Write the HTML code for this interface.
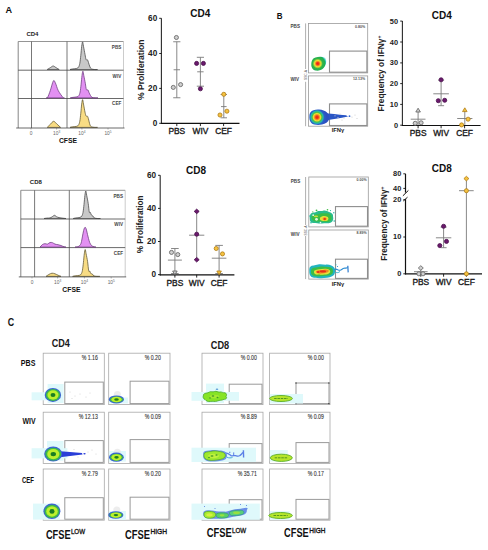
<!DOCTYPE html>
<html><head><meta charset="utf-8"><title>Figure</title>
<style>
html,body{margin:0;padding:0;background:#fff;}
body{width:488px;height:550px;overflow:hidden;}
svg{display:block;font-family:"Liberation Sans", sans-serif;}
</style></head><body>
<svg width="488" height="550" viewBox="0 0 488 550">
<defs>
<radialGradient id="rg1" gradientUnits="userSpaceOnUse" cx="317.7" cy="63.6" r="8.6">
<stop offset="0" stop-color="#ec1e10"/><stop offset="0.14" stop-color="#f0321a"/>
<stop offset="0.26" stop-color="#f39422"/><stop offset="0.37" stop-color="#ece232"/>
<stop offset="0.48" stop-color="#8ccc3c"/><stop offset="0.58" stop-color="#30b44a"/><stop offset="0.84" stop-color="#20b050"/>
<stop offset="0.95" stop-color="#35c4b8"/><stop offset="1" stop-color="#7fdcd6"/>
</radialGradient>
<radialGradient id="rg2" gradientUnits="userSpaceOnUse" cx="317.0" cy="117.2" r="9.6">
<stop offset="0" stop-color="#ec1e10"/><stop offset="0.14" stop-color="#f0381a"/>
<stop offset="0.27" stop-color="#f39a22"/><stop offset="0.38" stop-color="#ede232"/>
<stop offset="0.5" stop-color="#50be46"/><stop offset="0.64" stop-color="#22b8b0"/>
<stop offset="0.76" stop-color="#2a5ec8"/><stop offset="1" stop-color="#2a50c0"/>
</radialGradient>
</defs>
<rect width="488" height="550" fill="#fff"/>
<text x="5.4" y="13.0" font-size="9.4" font-weight="bold" fill="#111" textLength="6.6" lengthAdjust="spacingAndGlyphs">A</text>
<text x="276.8" y="19.0" font-size="9.4" font-weight="bold" fill="#111" textLength="5.8" lengthAdjust="spacingAndGlyphs">B</text>
<text x="7.8" y="325.8" font-size="10.2" font-weight="bold" fill="#111" textLength="6.4" lengthAdjust="spacingAndGlyphs">C</text>
<line x1="18.2" y1="41.5" x2="18.2" y2="128.0" stroke="#666" stroke-width="0.8" />
<line x1="18.2" y1="41.5" x2="123.5" y2="41.5" stroke="#7a7a7a" stroke-width="0.8" />
<line x1="123.5" y1="41.5" x2="123.5" y2="128.0" stroke="#aaaaaa" stroke-width="0.6" />
<line x1="31.5" y1="41.5" x2="31.5" y2="128.0" stroke="#555" stroke-width="0.8" />
<line x1="67.0" y1="41.5" x2="67.0" y2="128.0" stroke="#555" stroke-width="0.8" />
<line x1="18.2" y1="70.2" x2="123.5" y2="70.2" stroke="#444" stroke-width="0.8" />
<line x1="18.2" y1="98.5" x2="123.5" y2="98.5" stroke="#444" stroke-width="0.8" />
<text x="26.4" y="36.2" font-size="6.0" font-weight="bold" text-anchor="start" fill="#222" >CD4</text>
<path d="M47.20,69.50 C47.74,69.18 49.45,68.16 50.45,67.58 C51.45,66.99 52.28,66.00 53.20,66.00 C54.12,66.00 54.95,66.99 55.95,67.58 C56.95,68.16 58.66,69.18 59.20,69.50 Z" fill="#c8c8c8" stroke="#444" stroke-width="0.75" />
<path d="M70.00,69.50 C70.43,69.41 71.47,69.13 72.60,68.95 C73.73,68.76 75.80,68.72 76.80,68.40 C77.80,68.07 78.10,67.84 78.60,67.02 C79.10,66.19 79.43,65.36 79.80,63.43 C80.17,61.50 80.48,58.28 80.80,55.42 C81.12,52.57 81.40,48.57 81.70,46.32 C82.00,44.06 82.30,41.90 82.60,41.90 C82.90,41.90 83.10,44.25 83.50,46.32 C83.90,48.39 84.57,52.11 85.00,54.32 C85.43,56.53 85.68,58.64 86.10,59.56 C86.52,60.48 87.12,59.38 87.50,59.84 C87.88,60.30 87.98,61.13 88.40,62.32 C88.82,63.52 89.48,65.91 90.00,67.02 C90.52,68.12 90.75,68.53 91.50,68.95 C92.25,69.36 93.50,69.41 94.50,69.50 C95.50,69.59 97.00,69.50 97.50,69.50 Z" fill="#c8c8c8" stroke="#444" stroke-width="0.75" />
<text x="121.3" y="48.6" font-size="4.6" font-weight="bold" text-anchor="end" fill="#444" >PBS</text>
<path d="M46.10,97.90 C46.35,97.81 46.90,98.61 47.60,97.39 C48.30,96.17 49.34,93.34 50.30,90.59 C51.26,87.84 52.49,82.15 53.35,80.90 C54.21,79.65 54.64,81.50 55.46,83.11 C56.28,84.73 57.01,88.21 58.25,90.59 C59.49,92.97 61.88,96.17 62.90,97.39 C63.93,98.61 64.15,97.81 64.40,97.90 Z" fill="#e290f2" stroke="#6a3a7c" stroke-width="0.75" />
<path d="M70.30,97.90 C70.73,97.81 71.77,97.54 72.90,97.37 C74.03,97.19 76.10,97.14 77.10,96.83 C78.10,96.52 78.40,96.30 78.90,95.50 C79.40,94.70 79.73,93.90 80.10,92.03 C80.47,90.16 80.78,87.04 81.10,84.28 C81.42,81.52 81.70,77.65 82.00,75.47 C82.30,73.29 82.60,71.20 82.90,71.20 C83.20,71.20 83.40,73.47 83.80,75.47 C84.20,77.47 84.87,80.86 85.30,83.22 C85.73,85.57 85.95,88.51 86.40,89.62 C86.85,90.74 87.58,89.44 88.00,89.89 C88.42,90.34 88.48,91.36 88.90,92.29 C89.32,93.23 89.98,94.65 90.50,95.50 C91.02,96.34 91.25,96.97 92.00,97.37 C92.75,97.77 94.00,97.81 95.00,97.90 C96.00,97.99 97.50,97.90 98.00,97.90 Z" fill="#e290f2" stroke="#6a3a7c" stroke-width="0.75" />
<text x="121.3" y="78.2" font-size="4.6" font-weight="bold" text-anchor="end" fill="#444" >WIV</text>
<path d="M47.20,127.40 C47.77,126.84 49.56,125.06 50.63,124.05 C51.70,123.03 52.55,121.30 53.60,121.30 C54.65,121.30 55.73,123.03 56.90,124.05 C58.07,125.06 59.98,126.84 60.60,127.40 Z" fill="#f8dc84" stroke="#5e5430" stroke-width="0.75" />
<path d="M70.00,127.40 C70.43,127.31 71.47,127.03 72.60,126.84 C73.73,126.66 75.80,126.61 76.80,126.29 C77.80,125.96 78.10,125.73 78.60,124.90 C79.10,124.06 79.43,123.23 79.80,121.28 C80.17,119.34 80.48,116.09 80.80,113.22 C81.12,110.35 81.40,106.32 81.70,104.05 C82.00,101.78 82.30,99.60 82.60,99.60 C82.90,99.60 83.10,101.96 83.50,104.05 C83.90,106.13 84.57,110.12 85.00,112.11 C85.43,114.10 85.68,115.31 86.10,116.00 C86.52,116.70 87.12,115.82 87.50,116.28 C87.88,116.74 87.98,117.35 88.40,118.78 C88.82,120.22 89.48,123.55 90.00,124.90 C90.52,126.24 90.75,126.43 91.50,126.84 C92.25,127.26 93.50,127.31 94.50,127.40 C95.50,127.49 97.00,127.40 97.50,127.40 Z" fill="#f8dc84" stroke="#5e5430" stroke-width="0.75" />
<text x="121.3" y="104.5" font-size="4.6" font-weight="bold" text-anchor="end" fill="#444" >CEF</text>
<line x1="16.2" y1="128.0" x2="124.5" y2="128.0" stroke="#444" stroke-width="0.8" />
<line x1="31.0" y1="128.0" x2="31.0" y2="129.5" stroke="#666" stroke-width="0.5" />
<line x1="56.6" y1="128.0" x2="56.6" y2="129.5" stroke="#666" stroke-width="0.5" />
<line x1="81.9" y1="128.0" x2="81.9" y2="129.5" stroke="#666" stroke-width="0.5" />
<line x1="108.0" y1="128.0" x2="108.0" y2="129.5" stroke="#666" stroke-width="0.5" />
<text x="31.0" y="134.7" font-size="4.8" font-weight="normal" text-anchor="middle" fill="#666" >0</text>
<text x="56.6" y="134.7" font-size="4.8" fill="#666" text-anchor="middle">10<tspan font-size="3.2" dy="-2.0">3</tspan></text>
<text x="81.9" y="134.7" font-size="4.8" fill="#666" text-anchor="middle">10<tspan font-size="3.2" dy="-2.0">4</tspan></text>
<text x="108.0" y="134.7" font-size="4.8" fill="#666" text-anchor="middle">10<tspan font-size="3.2" dy="-2.0">5</tspan></text>
<text x="68.0" y="143.0" font-size="6.8" font-weight="bold" text-anchor="middle" fill="#111" >CFSE</text>
<line x1="20.8" y1="190.3" x2="20.8" y2="276.9" stroke="#666" stroke-width="0.8" />
<line x1="20.8" y1="190.3" x2="125.2" y2="190.3" stroke="#7a7a7a" stroke-width="0.8" />
<line x1="125.2" y1="190.3" x2="125.2" y2="276.9" stroke="#aaaaaa" stroke-width="0.6" />
<line x1="34.6" y1="190.3" x2="34.6" y2="276.9" stroke="#555" stroke-width="0.8" />
<line x1="69.3" y1="190.3" x2="69.3" y2="276.9" stroke="#555" stroke-width="0.8" />
<line x1="20.8" y1="219.0" x2="125.2" y2="219.0" stroke="#444" stroke-width="0.8" />
<line x1="20.8" y1="247.6" x2="125.2" y2="247.6" stroke="#444" stroke-width="0.8" />
<text x="29.8" y="184.4" font-size="6.0" font-weight="bold" text-anchor="start" fill="#222" >CD8</text>
<path d="M44.00,218.50 C44.50,218.43 46.00,218.20 47.00,218.10 C48.00,218.00 49.17,218.10 50.00,217.90 C50.83,217.70 51.25,217.33 52.00,216.90 C52.75,216.47 53.75,215.33 54.50,215.30 C55.25,215.27 55.75,216.32 56.50,216.70 C57.25,217.08 57.92,217.35 59.00,217.60 C60.08,217.85 61.83,218.05 63.00,218.20 C64.17,218.35 65.50,218.45 66.00,218.50 Z" fill="#c8c8c8" stroke="#444" stroke-width="0.75" />
<path d="M73.20,218.50 C73.63,218.41 74.67,218.13 75.80,217.95 C76.93,217.77 79.00,217.72 80.00,217.40 C81.00,217.08 81.30,216.85 81.80,216.03 C82.30,215.20 82.63,214.38 83.00,212.45 C83.37,210.52 83.68,207.32 84.00,204.47 C84.32,201.63 84.60,197.65 84.90,195.40 C85.20,193.15 85.50,191.00 85.80,191.00 C86.10,191.00 86.30,193.34 86.70,195.40 C87.10,197.46 87.77,200.58 88.20,203.38 C88.63,206.17 88.93,210.66 89.30,212.18 C89.67,213.69 90.07,211.99 90.40,212.45 C90.73,212.91 90.88,214.33 91.30,214.93 C91.72,215.52 92.38,215.52 92.90,216.03 C93.42,216.53 93.65,217.54 94.40,217.95 C95.15,218.36 96.40,218.41 97.40,218.50 C98.40,218.59 99.90,218.50 100.40,218.50 Z" fill="#c8c8c8" stroke="#444" stroke-width="0.75" />
<text x="123.0" y="197.5" font-size="4.6" font-weight="bold" text-anchor="end" fill="#444" >PBS</text>
<path d="M40.00,247.10 C40.42,246.67 41.67,245.07 42.50,244.50 C43.33,243.93 44.17,243.77 45.00,243.70 C45.83,243.63 46.67,244.30 47.50,244.10 C48.33,243.90 49.17,242.73 50.00,242.50 C50.83,242.27 51.67,242.43 52.50,242.70 C53.33,242.97 54.08,243.77 55.00,244.10 C55.92,244.43 57.00,244.47 58.00,244.70 C59.00,244.93 60.00,245.15 61.00,245.50 C62.00,245.85 63.17,246.53 64.00,246.80 C64.83,247.07 65.67,247.05 66.00,247.10 Z" fill="#e290f2" stroke="#6a3a7c" stroke-width="0.75" />
<path d="M75.00,247.10 C75.53,247.02 77.28,247.03 78.20,246.60 C79.12,246.17 79.95,245.35 80.50,244.50 C81.05,243.65 81.17,242.90 81.50,241.50 C81.83,240.10 82.15,237.92 82.50,236.10 C82.85,234.28 83.25,232.00 83.60,230.60 C83.95,229.20 84.28,228.22 84.60,227.70 C84.92,227.18 85.18,227.10 85.50,227.50 C85.82,227.90 86.17,228.93 86.50,230.10 C86.83,231.27 87.17,233.10 87.50,234.50 C87.83,235.90 88.13,237.17 88.50,238.50 C88.87,239.83 89.20,241.33 89.70,242.50 C90.20,243.67 90.78,244.78 91.50,245.50 C92.22,246.22 93.25,246.53 94.00,246.80 C94.75,247.07 95.67,247.05 96.00,247.10 Z" fill="#e290f2" stroke="#6a3a7c" stroke-width="0.75" />
<text x="123.0" y="226.2" font-size="4.6" font-weight="bold" text-anchor="end" fill="#444" >WIV</text>
<path d="M46.00,276.40 C46.50,276.07 48.00,274.93 49.00,274.40 C50.00,273.87 51.00,273.30 52.00,273.20 C53.00,273.10 54.00,273.47 55.00,273.80 C56.00,274.13 57.00,274.77 58.00,275.20 C59.00,275.63 60.50,276.20 61.00,276.40 Z" fill="#f8dc84" stroke="#5e5430" stroke-width="0.75" />
<path d="M72.60,276.40 C73.03,276.31 74.07,276.04 75.20,275.86 C76.33,275.68 78.40,275.64 79.40,275.32 C80.40,275.01 80.70,274.79 81.20,273.98 C81.70,273.17 82.03,272.36 82.40,270.48 C82.77,268.60 83.08,265.46 83.40,262.68 C83.72,259.90 84.00,256.00 84.30,253.80 C84.60,251.61 84.90,249.50 85.20,249.50 C85.50,249.50 85.70,251.79 86.10,253.80 C86.50,255.82 87.17,258.78 87.60,261.60 C88.03,264.43 88.33,269.18 88.70,270.75 C89.07,272.32 89.47,270.57 89.80,271.02 C90.13,271.47 90.28,272.95 90.70,273.44 C91.12,273.93 91.78,273.58 92.30,273.98 C92.82,274.38 93.05,275.46 93.80,275.86 C94.55,276.27 95.80,276.31 96.80,276.40 C97.80,276.49 99.30,276.40 99.80,276.40 Z" fill="#f8dc84" stroke="#5e5430" stroke-width="0.75" />
<text x="123.0" y="255.4" font-size="4.6" font-weight="bold" text-anchor="end" fill="#444" >CEF</text>
<line x1="18.8" y1="276.9" x2="126.2" y2="276.9" stroke="#444" stroke-width="0.8" />
<line x1="32.0" y1="276.9" x2="32.0" y2="278.4" stroke="#666" stroke-width="0.5" />
<line x1="57.6" y1="276.9" x2="57.6" y2="278.4" stroke="#666" stroke-width="0.5" />
<line x1="84.4" y1="276.9" x2="84.4" y2="278.4" stroke="#666" stroke-width="0.5" />
<line x1="111.2" y1="276.9" x2="111.2" y2="278.4" stroke="#666" stroke-width="0.5" />
<text x="32.0" y="283.8" font-size="4.8" font-weight="normal" text-anchor="middle" fill="#666" >0</text>
<text x="57.6" y="283.8" font-size="4.8" fill="#666" text-anchor="middle">10<tspan font-size="3.2" dy="-2.0">3</tspan></text>
<text x="84.4" y="283.8" font-size="4.8" fill="#666" text-anchor="middle">10<tspan font-size="3.2" dy="-2.0">4</tspan></text>
<text x="111.2" y="283.8" font-size="4.8" fill="#666" text-anchor="middle">10<tspan font-size="3.2" dy="-2.0">5</tspan></text>
<text x="71.4" y="292.2" font-size="6.8" font-weight="bold" text-anchor="middle" fill="#111" >CFSE</text>
<line x1="161.4" y1="18.3" x2="161.4" y2="123.89999999999999" stroke="#2a2a2a" stroke-width="1.1" />
<line x1="160.9" y1="123.3" x2="239.5" y2="123.3" stroke="#111" stroke-width="1.2" />
<line x1="159.20000000000002" y1="18.3" x2="161.4" y2="18.3" stroke="#111" stroke-width="0.9" />
<text x="157.20000000000002" y="20.8" font-size="8.2" font-weight="bold" text-anchor="end" fill="#222" >60</text>
<line x1="159.20000000000002" y1="53.5" x2="161.4" y2="53.5" stroke="#111" stroke-width="0.9" />
<text x="157.20000000000002" y="56.0" font-size="8.2" font-weight="bold" text-anchor="end" fill="#222" >40</text>
<line x1="159.20000000000002" y1="88.4" x2="161.4" y2="88.4" stroke="#111" stroke-width="0.9" />
<text x="157.20000000000002" y="90.9" font-size="8.2" font-weight="bold" text-anchor="end" fill="#222" >20</text>
<line x1="159.20000000000002" y1="123.3" x2="161.4" y2="123.3" stroke="#111" stroke-width="0.9" />
<text x="157.20000000000002" y="125.8" font-size="8.2" font-weight="bold" text-anchor="end" fill="#222" >0</text>
<line x1="176.8" y1="123.3" x2="176.8" y2="126.1" stroke="#111" stroke-width="0.9" />
<text x="176.8" y="133.89999999999998" font-size="8.4" font-weight="normal" text-anchor="middle" fill="#1a1a1a" stroke="#1a1a1a" stroke-width="0.35">PBS</text>
<line x1="200.4" y1="123.3" x2="200.4" y2="126.1" stroke="#111" stroke-width="0.9" />
<text x="200.4" y="133.89999999999998" font-size="8.4" font-weight="normal" text-anchor="middle" fill="#1a1a1a" stroke="#1a1a1a" stroke-width="0.35">WIV</text>
<line x1="223.6" y1="123.3" x2="223.6" y2="126.1" stroke="#111" stroke-width="0.9" />
<text x="223.6" y="133.89999999999998" font-size="8.4" font-weight="normal" text-anchor="middle" fill="#1a1a1a" stroke="#1a1a1a" stroke-width="0.35">CEF</text>
<text x="200.2" y="16.6" font-size="10.0" font-weight="bold" text-anchor="middle" fill="#111" >CD4</text>
<text transform="translate(143.9,69.7) rotate(-90)" font-size="8.6" font-weight="bold" text-anchor="middle" fill="#222">% Proliferation</text>
<line x1="176.8" y1="41.75" x2="176.8" y2="97.75" stroke="#7a7a7a" stroke-width="0.9" />
<line x1="173.20000000000002" y1="41.75" x2="180.4" y2="41.75" stroke="#7a7a7a" stroke-width="0.9" />
<line x1="173.20000000000002" y1="97.75" x2="180.4" y2="97.75" stroke="#7a7a7a" stroke-width="0.9" />
<line x1="173.60000000000002" y1="69.75" x2="180.0" y2="69.75" stroke="#7a7a7a" stroke-width="0.9" />
<line x1="200.4" y1="57.3" x2="200.4" y2="86.2" stroke="#7a7a7a" stroke-width="0.9" />
<line x1="196.8" y1="57.3" x2="204.0" y2="57.3" stroke="#7a7a7a" stroke-width="0.9" />
<line x1="196.8" y1="86.2" x2="204.0" y2="86.2" stroke="#7a7a7a" stroke-width="0.9" />
<line x1="197.20000000000002" y1="71.8" x2="203.6" y2="71.8" stroke="#7a7a7a" stroke-width="0.9" />
<line x1="223.8" y1="94.5" x2="223.8" y2="117.8" stroke="#7a7a7a" stroke-width="0.9" />
<line x1="220.60000000000002" y1="94.5" x2="227.0" y2="94.5" stroke="#7a7a7a" stroke-width="0.9" />
<line x1="220.60000000000002" y1="117.8" x2="227.0" y2="117.8" stroke="#7a7a7a" stroke-width="0.9" />
<line x1="221.0" y1="106.6" x2="226.60000000000002" y2="106.6" stroke="#7a7a7a" stroke-width="0.9" />
<circle cx="176.4" cy="37.5" r="2.05" fill="#cfcfcf" stroke="#5e5e5e" stroke-width="0.8"/>
<circle cx="173.3" cy="87.4" r="2.05" fill="#cfcfcf" stroke="#5e5e5e" stroke-width="0.8"/>
<circle cx="180.6" cy="84.6" r="2.05" fill="#cfcfcf" stroke="#5e5e5e" stroke-width="0.8"/>
<circle cx="196.6" cy="63.4" r="2.05" fill="#6a1a6c" stroke="#4a0f4c" stroke-width="0.8"/>
<circle cx="203.4" cy="63.4" r="2.05" fill="#6a1a6c" stroke="#4a0f4c" stroke-width="0.8"/>
<circle cx="200.4" cy="88.8" r="2.05" fill="#6a1a6c" stroke="#4a0f4c" stroke-width="0.8"/>
<circle cx="223.8" cy="94.3" r="2.05" fill="#f5c240" stroke="#b07c14" stroke-width="0.8"/>
<circle cx="226.9" cy="111.2" r="2.05" fill="#f5c240" stroke="#b07c14" stroke-width="0.8"/>
<circle cx="220.0" cy="115.0" r="2.05" fill="#f5c240" stroke="#b07c14" stroke-width="0.8"/>
<line x1="160.2" y1="175.3" x2="160.2" y2="275.40000000000003" stroke="#2a2a2a" stroke-width="1.1" />
<line x1="159.7" y1="274.8" x2="234.4" y2="274.8" stroke="#111" stroke-width="1.2" />
<line x1="158.0" y1="175.3" x2="160.2" y2="175.3" stroke="#111" stroke-width="0.9" />
<text x="156.0" y="177.8" font-size="8.2" font-weight="bold" text-anchor="end" fill="#222" >60</text>
<line x1="158.0" y1="208.4" x2="160.2" y2="208.4" stroke="#111" stroke-width="0.9" />
<text x="156.0" y="210.9" font-size="8.2" font-weight="bold" text-anchor="end" fill="#222" >40</text>
<line x1="158.0" y1="241.5" x2="160.2" y2="241.5" stroke="#111" stroke-width="0.9" />
<text x="156.0" y="244.0" font-size="8.2" font-weight="bold" text-anchor="end" fill="#222" >20</text>
<line x1="158.0" y1="274.6" x2="160.2" y2="274.6" stroke="#111" stroke-width="0.9" />
<text x="156.0" y="277.1" font-size="8.2" font-weight="bold" text-anchor="end" fill="#222" >0</text>
<line x1="174.9" y1="274.8" x2="174.9" y2="277.6" stroke="#111" stroke-width="0.9" />
<text x="174.9" y="285.9" font-size="8.4" font-weight="normal" text-anchor="middle" fill="#1a1a1a" stroke="#1a1a1a" stroke-width="0.35">PBS</text>
<line x1="196.7" y1="274.8" x2="196.7" y2="277.6" stroke="#111" stroke-width="0.9" />
<text x="196.7" y="285.9" font-size="8.4" font-weight="normal" text-anchor="middle" fill="#1a1a1a" stroke="#1a1a1a" stroke-width="0.35">WIV</text>
<line x1="219.1" y1="274.8" x2="219.1" y2="277.6" stroke="#111" stroke-width="0.9" />
<text x="219.1" y="285.9" font-size="8.4" font-weight="normal" text-anchor="middle" fill="#1a1a1a" stroke="#1a1a1a" stroke-width="0.35">CEF</text>
<text x="196.1" y="174.0" font-size="10.0" font-weight="bold" text-anchor="middle" fill="#111" >CD8</text>
<text transform="translate(143.2,224.4) rotate(-90)" font-size="8.2" font-weight="bold" text-anchor="middle" fill="#222">% Proliferation</text>
<line x1="174.9" y1="248.5" x2="174.9" y2="273.5" stroke="#7a7a7a" stroke-width="0.9" />
<line x1="171.1" y1="248.5" x2="178.70000000000002" y2="248.5" stroke="#7a7a7a" stroke-width="0.9" />
<line x1="171.1" y1="273.5" x2="178.70000000000002" y2="273.5" stroke="#7a7a7a" stroke-width="0.9" />
<line x1="167.9" y1="260.1" x2="181.9" y2="260.1" stroke="#7a7a7a" stroke-width="0.9" />
<line x1="196.7" y1="211.4" x2="196.7" y2="259.7" stroke="#7a7a7a" stroke-width="0.9" />
<line x1="196.7" y1="211.4" x2="196.7" y2="211.4" stroke="#7a7a7a" stroke-width="0.9" />
<line x1="196.7" y1="259.7" x2="196.7" y2="259.7" stroke="#7a7a7a" stroke-width="0.9" />
<line x1="189.1" y1="235.2" x2="204.29999999999998" y2="235.2" stroke="#7a7a7a" stroke-width="0.9" />
<line x1="219.1" y1="245.4" x2="219.1" y2="273.5" stroke="#7a7a7a" stroke-width="0.9" />
<line x1="215.29999999999998" y1="245.4" x2="222.9" y2="245.4" stroke="#7a7a7a" stroke-width="0.9" />
<line x1="215.29999999999998" y1="273.5" x2="222.9" y2="273.5" stroke="#7a7a7a" stroke-width="0.9" />
<line x1="211.79999999999998" y1="258.2" x2="226.4" y2="258.2" stroke="#7a7a7a" stroke-width="0.9" />
<circle cx="171.5" cy="252.4" r="2.05" fill="#cfcfcf" stroke="#5e5e5e" stroke-width="0.8"/>
<circle cx="177.8" cy="254.6" r="2.05" fill="#cfcfcf" stroke="#5e5e5e" stroke-width="0.8"/>
<path d="M172.6,271.0 L177.20000000000002,271.0 L174.9,274.8 Z" fill="#cfcfcf" stroke="#5e5e5e" stroke-width="0.8" />
<path d="M194.2,211.4 L196.7,209.1 L199.2,211.4 L196.7,213.70000000000002 Z" fill="#6a1a6c" stroke="#4a0f4c" stroke-width="0.8" />
<circle cx="196.7" cy="234.2" r="2.05" fill="#6a1a6c" stroke="#4a0f4c" stroke-width="0.8"/>
<path d="M194.2,259.7 L196.7,257.4 L199.2,259.7 L196.7,262.0 Z" fill="#6a1a6c" stroke="#4a0f4c" stroke-width="0.8" />
<circle cx="216.2" cy="248.5" r="2.05" fill="#f5c240" stroke="#b07c14" stroke-width="0.8"/>
<circle cx="222.5" cy="253.9" r="2.05" fill="#f5c240" stroke="#b07c14" stroke-width="0.8"/>
<path d="M216.79999999999998,271.0 L221.4,271.0 L219.1,274.8 Z" fill="#f5c240" stroke="#b07c14" stroke-width="0.8" />
<line x1="402.4" y1="21.1" x2="402.4" y2="126.1" stroke="#2a2a2a" stroke-width="1.1" />
<line x1="401.9" y1="125.5" x2="480.6" y2="125.5" stroke="#111" stroke-width="1.2" />
<line x1="400.2" y1="21.1" x2="402.4" y2="21.1" stroke="#111" stroke-width="0.9" />
<text x="398.0" y="23.6" font-size="7.4" font-weight="bold" text-anchor="end" fill="#222" >50</text>
<line x1="400.2" y1="42.0" x2="402.4" y2="42.0" stroke="#111" stroke-width="0.9" />
<text x="398.0" y="44.5" font-size="7.4" font-weight="bold" text-anchor="end" fill="#222" >40</text>
<line x1="400.2" y1="62.9" x2="402.4" y2="62.9" stroke="#111" stroke-width="0.9" />
<text x="398.0" y="65.4" font-size="7.4" font-weight="bold" text-anchor="end" fill="#222" >30</text>
<line x1="400.2" y1="83.6" x2="402.4" y2="83.6" stroke="#111" stroke-width="0.9" />
<text x="398.0" y="86.1" font-size="7.4" font-weight="bold" text-anchor="end" fill="#222" >20</text>
<line x1="400.2" y1="104.4" x2="402.4" y2="104.4" stroke="#111" stroke-width="0.9" />
<text x="398.0" y="106.9" font-size="7.4" font-weight="bold" text-anchor="end" fill="#222" >10</text>
<line x1="400.2" y1="125.2" x2="402.4" y2="125.2" stroke="#111" stroke-width="0.9" />
<text x="398.0" y="127.7" font-size="7.4" font-weight="bold" text-anchor="end" fill="#222" >0</text>
<line x1="418.1" y1="125.5" x2="418.1" y2="128.3" stroke="#111" stroke-width="0.9" />
<text x="418.1" y="136.0" font-size="8.4" font-weight="normal" text-anchor="middle" fill="#1a1a1a" stroke="#1a1a1a" stroke-width="0.35">PBS</text>
<line x1="441.1" y1="125.5" x2="441.1" y2="128.3" stroke="#111" stroke-width="0.9" />
<text x="441.1" y="136.0" font-size="8.4" font-weight="normal" text-anchor="middle" fill="#1a1a1a" stroke="#1a1a1a" stroke-width="0.35">WIV</text>
<line x1="464.6" y1="125.5" x2="464.6" y2="128.3" stroke="#111" stroke-width="0.9" />
<text x="464.6" y="136.0" font-size="8.4" font-weight="normal" text-anchor="middle" fill="#1a1a1a" stroke="#1a1a1a" stroke-width="0.35">CEF</text>
<text x="441.7" y="19.0" font-size="10.0" font-weight="bold" text-anchor="middle" fill="#111" >CD4</text>
<text transform="translate(383.9,73.6) rotate(-90)" font-size="8.4" font-weight="bold" text-anchor="middle" fill="#222">Frequency of IFN&#947;<tspan font-size="5" dy="-3">+</tspan></text>
<line x1="418.1" y1="110.5" x2="418.1" y2="125.0" stroke="#7a7a7a" stroke-width="0.9" />
<line x1="418.1" y1="110.5" x2="418.1" y2="110.5" stroke="#7a7a7a" stroke-width="0.9" />
<line x1="418.1" y1="125.0" x2="418.1" y2="125.0" stroke="#7a7a7a" stroke-width="0.9" />
<line x1="410.70000000000005" y1="119.2" x2="425.5" y2="119.2" stroke="#7a7a7a" stroke-width="0.9" />
<line x1="441.1" y1="80.2" x2="441.1" y2="105.7" stroke="#7a7a7a" stroke-width="0.9" />
<line x1="438.1" y1="80.2" x2="444.1" y2="80.2" stroke="#7a7a7a" stroke-width="0.9" />
<line x1="438.1" y1="105.7" x2="444.1" y2="105.7" stroke="#7a7a7a" stroke-width="0.9" />
<line x1="433.3" y1="93.8" x2="448.90000000000003" y2="93.8" stroke="#7a7a7a" stroke-width="0.9" />
<line x1="464.8" y1="110.0" x2="464.8" y2="124.9" stroke="#7a7a7a" stroke-width="0.9" />
<line x1="464.8" y1="110.0" x2="464.8" y2="110.0" stroke="#7a7a7a" stroke-width="0.9" />
<line x1="464.8" y1="124.9" x2="464.8" y2="124.9" stroke="#7a7a7a" stroke-width="0.9" />
<line x1="457.2" y1="118.5" x2="472.40000000000003" y2="118.5" stroke="#7a7a7a" stroke-width="0.9" />
<path d="M415.8,112.0 L420.40000000000003,112.0 L418.1,108.2 Z" fill="#cfcfcf" stroke="#5e5e5e" stroke-width="0.8" />
<circle cx="415.2" cy="123.3" r="2.05" fill="#cfcfcf" stroke="#5e5e5e" stroke-width="0.8"/>
<circle cx="421.1" cy="122.8" r="2.05" fill="#cfcfcf" stroke="#5e5e5e" stroke-width="0.8"/>
<circle cx="441.1" cy="79.8" r="2.05" fill="#6a1a6c" stroke="#4a0f4c" stroke-width="0.8"/>
<circle cx="438.3" cy="100.7" r="2.05" fill="#6a1a6c" stroke="#4a0f4c" stroke-width="0.8"/>
<circle cx="444.7" cy="100.3" r="2.05" fill="#6a1a6c" stroke="#4a0f4c" stroke-width="0.8"/>
<path d="M462.5,111.6 L467.1,111.6 L464.8,107.8 Z" fill="#f5c240" stroke="#b07c14" stroke-width="0.8" />
<circle cx="468.1" cy="119.2" r="2.05" fill="#f5c240" stroke="#b07c14" stroke-width="0.8"/>
<circle cx="461.6" cy="124.9" r="2.05" fill="#f5c240" stroke="#b07c14" stroke-width="0.8"/>
<line x1="405.5" y1="173.8" x2="405.5" y2="192.6" stroke="#111" stroke-width="1.2" />
<line x1="405.5" y1="199.2" x2="405.5" y2="274.4" stroke="#111" stroke-width="1.2" />
<line x1="402.9" y1="195.8" x2="408.4" y2="190.4" stroke="#111" stroke-width="1.0" />
<line x1="403.3" y1="201.0" x2="407.5" y2="197.2" stroke="#111" stroke-width="1.0" />
<line x1="405.0" y1="273.9" x2="482.0" y2="273.9" stroke="#111" stroke-width="1.2" />
<line x1="403.3" y1="173.8" x2="405.5" y2="173.8" stroke="#111" stroke-width="0.9" />
<text x="401.3" y="175.9" font-size="7.4" font-weight="bold" text-anchor="end" fill="#222" >80</text>
<line x1="403.3" y1="188.4" x2="405.5" y2="188.4" stroke="#111" stroke-width="0.9" />
<text x="401.3" y="190.5" font-size="7.4" font-weight="bold" text-anchor="end" fill="#222" >40</text>
<line x1="403.3" y1="199.7" x2="405.5" y2="199.7" stroke="#111" stroke-width="0.9" />
<text x="401.3" y="201.79999999999998" font-size="7.4" font-weight="bold" text-anchor="end" fill="#222" >20</text>
<line x1="403.3" y1="237.0" x2="405.5" y2="237.0" stroke="#111" stroke-width="0.9" />
<text x="401.3" y="239.1" font-size="7.4" font-weight="bold" text-anchor="end" fill="#222" >10</text>
<line x1="403.3" y1="273.8" x2="405.5" y2="273.8" stroke="#111" stroke-width="0.9" />
<text x="401.3" y="275.90000000000003" font-size="7.4" font-weight="bold" text-anchor="end" fill="#222" >0</text>
<line x1="420.8" y1="273.9" x2="420.8" y2="276.7" stroke="#111" stroke-width="0.9" />
<text x="420.8" y="285.2" font-size="8.4" font-weight="normal" text-anchor="middle" fill="#1a1a1a" stroke="#1a1a1a" stroke-width="0.35">PBS</text>
<line x1="443.6" y1="273.9" x2="443.6" y2="276.7" stroke="#111" stroke-width="0.9" />
<text x="443.6" y="285.2" font-size="8.4" font-weight="normal" text-anchor="middle" fill="#1a1a1a" stroke="#1a1a1a" stroke-width="0.35">WIV</text>
<line x1="466.4" y1="273.9" x2="466.4" y2="276.7" stroke="#111" stroke-width="0.9" />
<text x="466.4" y="285.2" font-size="8.4" font-weight="normal" text-anchor="middle" fill="#1a1a1a" stroke="#1a1a1a" stroke-width="0.35">CEF</text>
<text x="441.7" y="171.5" font-size="10.0" font-weight="bold" text-anchor="middle" fill="#111" >CD8</text>
<text transform="translate(386.9,223.7) rotate(-90)" font-size="8.2" font-weight="bold" text-anchor="middle" fill="#222">Frequency of IFN&#947;<tspan font-size="5" dy="-3">+</tspan></text>
<line x1="420.8" y1="268.0" x2="420.8" y2="273.5" stroke="#7a7a7a" stroke-width="0.9" />
<line x1="420.8" y1="268.0" x2="420.8" y2="268.0" stroke="#7a7a7a" stroke-width="0.9" />
<line x1="420.8" y1="273.5" x2="420.8" y2="273.5" stroke="#7a7a7a" stroke-width="0.9" />
<line x1="414.0" y1="271.7" x2="427.6" y2="271.7" stroke="#7a7a7a" stroke-width="0.9" />
<line x1="443.6" y1="227.1" x2="443.6" y2="247.7" stroke="#7a7a7a" stroke-width="0.9" />
<line x1="440.6" y1="227.1" x2="446.6" y2="227.1" stroke="#7a7a7a" stroke-width="0.9" />
<line x1="440.6" y1="247.7" x2="446.6" y2="247.7" stroke="#7a7a7a" stroke-width="0.9" />
<line x1="435.90000000000003" y1="237.8" x2="451.3" y2="237.8" stroke="#7a7a7a" stroke-width="0.9" />
<line x1="466.4" y1="178.6" x2="466.4" y2="273.8" stroke="#7a7a7a" stroke-width="0.9" />
<line x1="459.0" y1="190.7" x2="473.7" y2="190.7" stroke="#7a7a7a" stroke-width="0.9" />
<path d="M418.3,268.0 L420.8,265.7 L423.3,268.0 L420.8,270.3 Z" fill="#cfcfcf" stroke="#5e5e5e" stroke-width="0.8" />
<circle cx="418.9" cy="273.8" r="2.05" fill="#cfcfcf" stroke="#5e5e5e" stroke-width="0.8"/>
<circle cx="423.0" cy="273.8" r="2.05" fill="#cfcfcf" stroke="#5e5e5e" stroke-width="0.8"/>
<circle cx="443.6" cy="226.3" r="2.05" fill="#6a1a6c" stroke="#4a0f4c" stroke-width="0.8"/>
<circle cx="446.5" cy="241.4" r="2.05" fill="#6a1a6c" stroke="#4a0f4c" stroke-width="0.8"/>
<circle cx="439.8" cy="245.6" r="2.05" fill="#6a1a6c" stroke="#4a0f4c" stroke-width="0.8"/>
<path d="M463.9,178.6 L466.4,176.29999999999998 L468.9,178.6 L466.4,180.9 Z" fill="#f5c240" stroke="#b07c14" stroke-width="0.8" />
<circle cx="466.4" cy="190.7" r="2.05" fill="#f5c240" stroke="#b07c14" stroke-width="0.8"/>
<circle cx="466.4" cy="273.8" r="2.05" fill="#f5c240" stroke="#b07c14" stroke-width="0.8"/>
<line x1="305.6" y1="23.4" x2="305.6" y2="69.0" stroke="#999" stroke-width="0.8" />
<line x1="305.6" y1="81.8" x2="305.6" y2="126.2" stroke="#999" stroke-width="0.8" />
<text transform="translate(306.9,75.0) rotate(-90)" font-size="3.3" fill="#555" text-anchor="middle">SSC-A</text>
<rect x="308.5" y="23.4" width="59.19999999999999" height="49.50000000000001" stroke="#9a9a9a" stroke-width="0.8" fill="#fff" />
<rect x="329.5" y="51.1" width="37.39999999999998" height="21.1" stroke="#8e8e8e" stroke-width="1.1" fill="none" />
<text x="365.3" y="27.799999999999997" font-size="3.6" font-weight="bold" text-anchor="end" fill="#555" >0.80%</text>
<rect x="308.5" y="75.9" width="59.19999999999999" height="50.3" stroke="#9a9a9a" stroke-width="0.8" fill="#fff" />
<rect x="329.5" y="103.9" width="37.39999999999998" height="21.599999999999994" stroke="#8e8e8e" stroke-width="1.1" fill="none" />
<text x="365.3" y="80.30000000000001" font-size="3.6" font-weight="bold" text-anchor="end" fill="#555" >12.13%</text>
<text x="290.5" y="28.3" font-size="4.6" font-weight="bold" text-anchor="start" fill="#444" >PBS</text>
<text x="290.5" y="81.4" font-size="4.6" font-weight="bold" text-anchor="start" fill="#444" >WIV</text>
<text x="338.0" y="132.4" font-size="5.8" font-weight="bold" text-anchor="middle" fill="#222" >IFN&#947;</text>
<path d="M312.4,59.8 C313.6,57.4 317,57 320,56.8 C323,56.6 325.6,57.5 326.1,60 C326.6,62.5 325.6,66 323.6,68 C321.6,70.3 318,71.1 315.5,70.6 C312.5,70 311.2,67 311.3,64.5 C311.3,62.5 311.7,61 312.4,59.8 Z" fill="url(#rg1)" stroke="none" stroke-width="0" />
<path d="M323,113.2 C330,113.6 338,114.4 346,115.3 L348,116.6 C340,118.2 332,119.5 323,120.6 Z" fill="#2a56c6" stroke="none" stroke-width="0" />
<circle cx="349.5" cy="116.2" r="0.9" fill="#3a6ad0"/>
<path d="M310.5,112.2 C312,110 315.5,109.3 319,109.5 C322.5,109.7 325,110.8 327,112.5 C329,114.2 329.6,117 329,119.5 C328.2,122 325.5,123.8 322,124.6 C318,125.4 313.5,125 311.3,123 C309.4,121 309.2,118 309.4,115.5 C309.5,114 309.9,113 310.5,112.2 Z" fill="url(#rg2)" stroke="none" stroke-width="0" />
<circle cx="340" cy="114" r="0.6" fill="#ccc"/>
<circle cx="344" cy="118" r="0.6" fill="#ccc"/>
<circle cx="352" cy="117" r="0.6" fill="#ccc"/>
<circle cx="355" cy="115" r="0.6" fill="#ccc"/>
<circle cx="342" cy="120" r="0.6" fill="#ccc"/>
<circle cx="338" cy="117.5" r="0.6" fill="#ccc"/>
<circle cx="357" cy="118.5" r="0.6" fill="#ccc"/>
<circle cx="335" cy="115.8" r="0.6" fill="#ccc"/>
<line x1="305.6" y1="177.0" x2="305.6" y2="225.0" stroke="#999" stroke-width="0.8" />
<line x1="305.6" y1="236.0" x2="305.6" y2="279.1" stroke="#999" stroke-width="0.8" />
<text transform="translate(306.9,230.5) rotate(-90)" font-size="3.3" fill="#555" text-anchor="middle">SSC-A</text>
<rect x="308.8" y="177.0" width="59.5" height="49.900000000000006" stroke="#9a9a9a" stroke-width="0.8" fill="#fff" />
<rect x="335.5" y="206.6" width="32.0" height="19.600000000000023" stroke="#8e8e8e" stroke-width="1.1" fill="none" />
<text x="366.8" y="181.4" font-size="3.6" font-weight="bold" text-anchor="end" fill="#555" >0.00%</text>
<rect x="308.8" y="230.0" width="59.5" height="49.10000000000002" stroke="#9a9a9a" stroke-width="0.8" fill="#fff" />
<rect x="335.5" y="259.2" width="32.0" height="19.200000000000045" stroke="#8e8e8e" stroke-width="1.1" fill="none" />
<text x="366.8" y="234.4" font-size="3.6" font-weight="bold" text-anchor="end" fill="#555" >8.89%</text>
<text x="290.8" y="182.6" font-size="4.6" font-weight="bold" text-anchor="start" fill="#444" >PBS</text>
<text x="290.8" y="236.4" font-size="4.6" font-weight="bold" text-anchor="start" fill="#444" >WIV</text>
<text x="338.0" y="286.2" font-size="5.8" font-weight="bold" text-anchor="middle" fill="#222" >IFN&#947;</text>
<path d="M310.5,214 C312,212 315,213 317,211.5 C319,210.2 321,211.5 323,210.8 C325,210 327.5,211 329,212 C331,212.5 333.5,214 333,216.5 C333.8,219 333,221.5 331,222.5 C328,223.8 325,223 322,223.5 C319,224 316,222.8 313.5,223 C311,223 309.6,221 309.8,219 C309.5,217.3 309.8,215.5 310.5,214 Z" fill="#28bc8c" stroke="none" stroke-width="0" />
<path d="M312,215.5 C314,214 317,215 319.5,213.8 C322,212.6 325,213.6 327.5,213.2 C330,213.4 331.8,215.5 331.5,218 C331.8,220.5 329.5,222 327,222 C324,222.3 321,221.2 318,221.6 C315.5,221.8 312.8,221 312,219.3 C311.3,218 311.4,216.5 312,215.5 Z" fill="#3cbd44" stroke="none" stroke-width="0" />
<circle cx="316.5" cy="219.3" r="1.4" fill="#ffffff" opacity="0.85"/>
<circle cx="313.2" cy="215.2" r="0.9" fill="#ffffff" opacity="0.85"/>
<circle cx="320.5" cy="222.6" r="0.8" fill="#ffffff" opacity="0.85"/>
<path d="M320,217.8 C321.5,215.8 325,215.5 327.3,216.7 C329.3,218 328.5,220.6 326,221 C323.5,221.4 320.8,220.5 320,219.4 Z" fill="#e6e03a" stroke="none" stroke-width="0" />
<ellipse cx="324.6" cy="218.8" rx="2.0" ry="1.6" fill="#f08a22"/>
<ellipse cx="324.8" cy="219.0" rx="1.1" ry="0.9" fill="#e8321a"/>
<ellipse cx="316" cy="216.3" rx="2.2" ry="0.9" fill="#c8dc40"/>
<circle cx="311" cy="222.8" r="0.8" fill="#22b5a0"/>
<circle cx="309.9" cy="216" r="0.7" fill="#22b5a0"/>
<circle cx="333.8" cy="212.8" r="0.7" fill="#22b5a0"/>
<circle cx="334.2" cy="221" r="0.8" fill="#22b5a0"/>
<circle cx="316.5" cy="210.3" r="0.9" fill="#3cbd44"/>
<circle cx="327.5" cy="209.8" r="0.8" fill="#3cbd44"/>
<circle cx="312.8" cy="211.8" r="0.6" fill="#3cbd44"/>
<circle cx="330.5" cy="210.6" r="0.6" fill="#22b5a0"/>
<path d="M310,267 C312,265 315,265.8 318,264.6 C321,263.8 324,265 327,264.6 C330,264.6 333,266 334.5,268 C335.5,270 335.4,273 334,275 C332,277.2 328,277.6 324,278 C319,278.4 314,278.2 311.5,277 C309.6,275.6 309.2,273 309.3,271 C309.2,269.5 309.4,268 310,267 Z" fill="#22b4c0" stroke="none" stroke-width="0" />
<path d="M311.8,268.8 C314,267 317,267.8 320,266.8 C323,266 326,267.2 329,267 C331.5,267.3 333,269 333,271 C333.3,273.2 331.5,275 328.5,275.6 C324,276.2 319,276.6 315,276.3 C312.5,276 311,274.6 311,272.6 C310.9,271 311.1,269.7 311.8,268.8 Z" fill="#3cbd44" stroke="none" stroke-width="0" />
<path d="M314.5,270.5 C317,269 321,269.5 324.5,268.8 C327.5,268.4 330,269.4 330.2,271.2 C330.4,273 328,274.4 325,274.6 C321,275 317,275 315,274 C313.8,273.2 313.7,271.5 314.5,270.5 Z" fill="#e6e03a" stroke="none" stroke-width="0" />
<path d="M316.2,271 C318.5,269.8 322,270.5 325,269.6 C327.5,269.2 329.3,270.2 328.6,271.6 C327.8,272.8 325,273.3 322,273.6 C319.5,273.9 317,273.6 316.3,272.6 C315.9,272 315.9,271.4 316.2,271 Z" fill="#f08a22" stroke="none" stroke-width="0" />
<ellipse cx="323" cy="271.4" rx="3.2" ry="1.1" fill="#e83018"/>
<ellipse cx="318.2" cy="272" rx="1.5" ry="0.9" fill="#e83018"/>
<ellipse cx="318.8" cy="274.4" rx="1.4" ry="0.7" fill="#8ccc3c"/>
<path d="M334.5,269.5 C336.5,268.2 338,270.5 340,270.2 C341.5,270 342.5,268.5 344,268.2 C345.5,268 346.5,268.6 347.5,267.4" fill="none" stroke="#2a8ad0" stroke-width="1.1" />
<path d="M347.8,265.8 L348.2,272.4" fill="none" stroke="#2a7ad0" stroke-width="1.2" />
<path d="M335.5,272 C337,273.2 338.5,272.6 340,271.5" fill="none" stroke="#22a8c8" stroke-width="0.9" />
<circle cx="337.5" cy="266.5" r="0.6" fill="#2a8ad0"/>
<circle cx="336" cy="264.8" r="0.5" fill="#22b4c0"/>
<text x="51.8" y="347.2" font-size="11.2" font-weight="bold" fill="#1a1a1a" text-anchor="start" textLength="18.1" lengthAdjust="spacingAndGlyphs">CD4</text>
<text x="210.8" y="349.2" font-size="11.2" font-weight="bold" fill="#1a1a1a" text-anchor="start" textLength="18.4" lengthAdjust="spacingAndGlyphs">CD8</text>
<text x="20.8" y="366.4" font-size="9.2" font-weight="bold" fill="#111" text-anchor="start" textLength="14.6" lengthAdjust="spacingAndGlyphs">PBS</text>
<text x="22.5" y="423.8" font-size="9.2" font-weight="bold" fill="#111" text-anchor="start" textLength="13.1" lengthAdjust="spacingAndGlyphs">WIV</text>
<text x="21.9" y="483.2" font-size="9.2" font-weight="bold" fill="#111" text-anchor="start" textLength="12.1" lengthAdjust="spacingAndGlyphs">CEF</text>
<text x="45.9" y="539.0" font-size="13.0" font-weight="bold" fill="#111" text-anchor="start" textLength="24.8" lengthAdjust="spacingAndGlyphs">CFSE</text>
<text x="70.9" y="534.3" font-size="7.8" font-weight="normal" fill="#111" text-anchor="start" textLength="14.2" lengthAdjust="spacingAndGlyphs" stroke="#111" stroke-width="0.35">LOW</text>
<text x="125.1" y="539.0" font-size="13.0" font-weight="bold" fill="#111" text-anchor="start" textLength="25.0" lengthAdjust="spacingAndGlyphs">CFSE</text>
<text x="150.4" y="534.3" font-size="7.8" font-weight="normal" fill="#111" text-anchor="start" textLength="16.7" lengthAdjust="spacingAndGlyphs" stroke="#111" stroke-width="0.35">HIGH</text>
<text x="206.7" y="537.0" font-size="13.0" font-weight="bold" fill="#111" text-anchor="start" textLength="25.1" lengthAdjust="spacingAndGlyphs">CFSE</text>
<text x="232.0" y="532.8" font-size="7.8" font-weight="normal" fill="#111" text-anchor="start" textLength="14.1" lengthAdjust="spacingAndGlyphs" stroke="#111" stroke-width="0.35">LOW</text>
<text x="284.1" y="537.0" font-size="13.0" font-weight="bold" fill="#111" text-anchor="start" textLength="24.6" lengthAdjust="spacingAndGlyphs">CFSE</text>
<text x="309.3" y="532.8" font-size="7.8" font-weight="normal" fill="#111" text-anchor="start" textLength="16.2" lengthAdjust="spacingAndGlyphs" stroke="#111" stroke-width="0.35">HIGH</text>
<rect x="43.2" y="353.2" width="61.099999999999994" height="51.400000000000034" stroke="#a8a8a8" stroke-width="0.8" fill="none" />
<rect x="64.8" y="382.1" width="38.5" height="21.5" stroke="#9a9a9a" stroke-width="1.0" fill="none" />
<text x="97.8" y="360.2" font-size="6.8" font-weight="normal" fill="#333" text-anchor="end" textLength="16.09" lengthAdjust="spacingAndGlyphs" stroke="#333" stroke-width="0.12">% 1.16</text>
<rect x="43.2" y="412.2" width="61.099999999999994" height="51.19999999999999" stroke="#a8a8a8" stroke-width="0.8" fill="none" />
<rect x="64.8" y="440.6" width="38.5" height="21.799999999999955" stroke="#9a9a9a" stroke-width="1.0" fill="none" />
<text x="97.8" y="419.2" font-size="6.8" font-weight="normal" fill="#333" text-anchor="end" textLength="18.96" lengthAdjust="spacingAndGlyphs" stroke="#333" stroke-width="0.12">% 12.13</text>
<rect x="43.2" y="469.0" width="61.099999999999994" height="51.200000000000045" stroke="#a8a8a8" stroke-width="0.8" fill="none" />
<rect x="64.8" y="497.7" width="38.5" height="21.500000000000057" stroke="#9a9a9a" stroke-width="1.0" fill="none" />
<text x="97.8" y="476.0" font-size="6.8" font-weight="normal" fill="#333" text-anchor="end" textLength="16.09" lengthAdjust="spacingAndGlyphs" stroke="#333" stroke-width="0.12">% 2.79</text>
<rect x="108.7" y="353.2" width="61.3" height="51.400000000000034" stroke="#a8a8a8" stroke-width="0.8" fill="none" />
<rect x="130.1" y="381.2" width="38.900000000000006" height="22.400000000000034" stroke="#9a9a9a" stroke-width="1.0" fill="none" />
<text x="160.8" y="360.2" font-size="6.8" font-weight="normal" fill="#333" text-anchor="end" textLength="16.09" lengthAdjust="spacingAndGlyphs" stroke="#333" stroke-width="0.12">% 0.20</text>
<rect x="108.7" y="412.2" width="61.3" height="51.19999999999999" stroke="#a8a8a8" stroke-width="0.8" fill="none" />
<rect x="130.1" y="439.6" width="38.900000000000006" height="22.799999999999955" stroke="#9a9a9a" stroke-width="1.0" fill="none" />
<text x="160.8" y="419.2" font-size="6.8" font-weight="normal" fill="#333" text-anchor="end" textLength="16.09" lengthAdjust="spacingAndGlyphs" stroke="#333" stroke-width="0.12">% 0.09</text>
<rect x="108.7" y="469.0" width="61.3" height="51.200000000000045" stroke="#a8a8a8" stroke-width="0.8" fill="none" />
<rect x="130.1" y="497.2" width="38.900000000000006" height="22.000000000000057" stroke="#9a9a9a" stroke-width="1.0" fill="none" />
<text x="160.8" y="476.0" font-size="6.8" font-weight="normal" fill="#333" text-anchor="end" textLength="16.09" lengthAdjust="spacingAndGlyphs" stroke="#333" stroke-width="0.12">% 0.20</text>
<rect x="202.0" y="353.2" width="61.0" height="51.400000000000034" stroke="#a8a8a8" stroke-width="0.8" fill="none" />
<rect x="229.2" y="384.2" width="32.80000000000001" height="19.400000000000034" stroke="#9a9a9a" stroke-width="1.0" fill="none" />
<text x="256.8" y="360.2" font-size="6.8" font-weight="normal" fill="#333" text-anchor="end" textLength="16.09" lengthAdjust="spacingAndGlyphs" stroke="#333" stroke-width="0.12">% 0.00</text>
<rect x="202.0" y="412.2" width="61.0" height="51.19999999999999" stroke="#a8a8a8" stroke-width="0.8" fill="none" />
<rect x="229.2" y="443.6" width="32.80000000000001" height="18.799999999999955" stroke="#9a9a9a" stroke-width="1.0" fill="none" />
<text x="256.8" y="419.2" font-size="6.8" font-weight="normal" fill="#333" text-anchor="end" textLength="16.09" lengthAdjust="spacingAndGlyphs" stroke="#333" stroke-width="0.12">% 8.89</text>
<rect x="202.0" y="469.0" width="61.0" height="51.200000000000045" stroke="#a8a8a8" stroke-width="0.8" fill="none" />
<rect x="229.2" y="499.7" width="32.80000000000001" height="19.500000000000057" stroke="#9a9a9a" stroke-width="1.0" fill="none" />
<text x="256.8" y="476.0" font-size="6.8" font-weight="normal" fill="#333" text-anchor="end" textLength="18.96" lengthAdjust="spacingAndGlyphs" stroke="#333" stroke-width="0.12">% 35.71</text>
<rect x="269.6" y="353.2" width="60.39999999999998" height="51.400000000000034" stroke="#a8a8a8" stroke-width="0.8" fill="none" />
<rect x="296.0" y="383.0" width="33.0" height="20.600000000000023" stroke="#9a9a9a" stroke-width="1.0" fill="none" />
<text x="323.8" y="360.2" font-size="6.8" font-weight="normal" fill="#333" text-anchor="end" textLength="16.09" lengthAdjust="spacingAndGlyphs" stroke="#333" stroke-width="0.12">% 0.00</text>
<rect x="269.6" y="412.2" width="60.39999999999998" height="51.19999999999999" stroke="#a8a8a8" stroke-width="0.8" fill="none" />
<rect x="296.0" y="442.6" width="33.0" height="19.799999999999955" stroke="#9a9a9a" stroke-width="1.0" fill="none" />
<text x="323.8" y="419.2" font-size="6.8" font-weight="normal" fill="#333" text-anchor="end" textLength="16.09" lengthAdjust="spacingAndGlyphs" stroke="#333" stroke-width="0.12">% 0.09</text>
<rect x="269.6" y="469.0" width="60.39999999999998" height="51.200000000000045" stroke="#a8a8a8" stroke-width="0.8" fill="none" />
<rect x="296.0" y="499.4" width="33.0" height="19.800000000000068" stroke="#9a9a9a" stroke-width="1.0" fill="none" />
<text x="323.8" y="476.0" font-size="6.8" font-weight="normal" fill="#333" text-anchor="end" textLength="16.09" lengthAdjust="spacingAndGlyphs" stroke="#333" stroke-width="0.12">% 0.17</text>
<rect x="295.4" y="382.4" width="1.2" height="1.2" fill="#333"/>
<rect x="328.29999999999995" y="382.4" width="1.2" height="1.2" fill="#333"/>
<rect x="295.4" y="403.0" width="1.2" height="1.2" fill="#333"/>
<rect x="328.29999999999995" y="403.0" width="1.2" height="1.2" fill="#333"/>
<rect x="31.6" y="392.3" width="16.4" height="8.0" fill="#dff9fb" opacity="1.0"/>
<rect x="47.6" y="384.0" width="16.0" height="19.0" fill="#dff9fb" opacity="1.0"/>
<rect x="31.6" y="448.2" width="35.8" height="10.2" fill="#dff9fb" opacity="1.0"/>
<rect x="47.0" y="441.0" width="16.5" height="19.7" fill="#dff9fb" opacity="1.0"/>
<rect x="33.0" y="503.6" width="26.7" height="16.0" fill="#dff9fb" opacity="1.0"/>
<rect x="108.9" y="397.5" width="19.0" height="6.0" fill="#dff9fb" opacity="1.0"/>
<rect x="108.9" y="451.0" width="17.0" height="10.6" fill="#dff9fb" opacity="1.0"/>
<rect x="108.9" y="511.0" width="17.0" height="8.8" fill="#dff9fb" opacity="1.0"/>
<rect x="191.5" y="392.0" width="47.5" height="8.8" fill="#dff9fb" opacity="1.0"/>
<rect x="206.0" y="383.6" width="18.0" height="19.5" fill="#dff9fb" opacity="1.0"/>
<rect x="191.5" y="447.7" width="64.5" height="14.3" fill="#dff9fb" opacity="1.0"/>
<rect x="191.5" y="503.6" width="68.3" height="16.2" fill="#dff9fb" opacity="1.0"/>
<rect x="269.8" y="394.0" width="33.2" height="9.5" fill="#dff9fb" opacity="1.0"/>
<rect x="269.8" y="450.0" width="18.0" height="11.5" fill="#dff9fb" opacity="1.0"/>
<rect x="269.8" y="511.0" width="20.0" height="8.8" fill="#dff9fb" opacity="1.0"/>
<ellipse cx="52.9" cy="394.9" rx="8.2" ry="7.0" fill="#3a62d4"/>
<ellipse cx="53.0" cy="395.0" rx="7.199999999999999" ry="6.0" fill="#3cb84a"/>
<ellipse cx="53.0" cy="395.0" rx="5.576" ry="4.760000000000001" fill="#bdf02c"/>
<ellipse cx="53.0" cy="395.0" rx="2.4599999999999995" ry="2.1" fill="#1a7e22"/>
<path d="M58,451.2 C66,451.4 74,452.4 82,453.0 L82.5,454.6 C74,455.6 66,456.8 58,457.5 Z" fill="#2a3ed8" stroke="none" stroke-width="0" />
<ellipse cx="84.5" cy="453.7" rx="1.2" ry="0.8" fill="#2a3ed8"/>
<ellipse cx="53.2" cy="454.0" rx="9.0" ry="7.4" fill="#3a62d4"/>
<ellipse cx="53.300000000000004" cy="454.1" rx="8.0" ry="6.4" fill="#3cb84a"/>
<ellipse cx="53.300000000000004" cy="454.1" rx="6.12" ry="5.032000000000001" fill="#bdf02c"/>
<ellipse cx="53.300000000000004" cy="454.1" rx="2.6999999999999997" ry="2.22" fill="#1a7e22"/>
<ellipse cx="51.9" cy="511.3" rx="8.5" ry="7.7" fill="#3a62d4"/>
<ellipse cx="52.0" cy="511.40000000000003" rx="7.5" ry="6.7" fill="#3cb84a"/>
<ellipse cx="52.0" cy="511.40000000000003" rx="5.78" ry="5.236000000000001" fill="#bdf02c"/>
<ellipse cx="52.0" cy="511.40000000000003" rx="2.55" ry="2.31" fill="#1a7e22"/>
<circle cx="70" cy="392" r="0.5" fill="#ccc"/>
<circle cx="75" cy="396" r="0.5" fill="#ccc"/>
<circle cx="80" cy="394" r="0.5" fill="#ccc"/>
<circle cx="86" cy="397" r="0.5" fill="#ccc"/>
<circle cx="90" cy="393" r="0.5" fill="#ccc"/>
<circle cx="72" cy="398.5" r="0.5" fill="#ccc"/>
<circle cx="66" cy="451" r="0.5" fill="#ccc"/>
<circle cx="74" cy="449.5" r="0.5" fill="#ccc"/>
<circle cx="88" cy="452" r="0.5" fill="#ccc"/>
<circle cx="92" cy="450" r="0.5" fill="#ccc"/>
<circle cx="96" cy="454" r="0.5" fill="#ccc"/>
<circle cx="78" cy="457" r="0.5" fill="#ccc"/>
<ellipse cx="117.4" cy="394.4" rx="3.5" ry="3.5" fill="#e6e6e6" opacity="0.7"/>
<ellipse cx="116.4" cy="399.4" rx="7.6" ry="4.0" fill="#3a62d4"/>
<ellipse cx="116.5" cy="399.5" rx="6.6" ry="3.0" fill="#3cb84a"/>
<ellipse cx="116.5" cy="399.5" rx="5.168" ry="2.72" fill="#bdf02c"/>
<ellipse cx="116.5" cy="399.5" rx="2.28" ry="1.2" fill="#1a7e22"/>
<ellipse cx="117.4" cy="452.2" rx="3.5" ry="3.5" fill="#e6e6e6" opacity="0.7"/>
<ellipse cx="116.4" cy="457.2" rx="7.4" ry="4.6" fill="#3a62d4"/>
<ellipse cx="116.5" cy="457.3" rx="6.4" ry="3.5999999999999996" fill="#3cb84a"/>
<ellipse cx="116.5" cy="457.3" rx="5.032000000000001" ry="3.128" fill="#bdf02c"/>
<ellipse cx="116.5" cy="457.3" rx="2.22" ry="1.38" fill="#1a7e22"/>
<ellipse cx="116.8" cy="510.0" rx="3.5" ry="3.5" fill="#e6e6e6" opacity="0.7"/>
<ellipse cx="115.8" cy="515.0" rx="7.6" ry="3.8" fill="#3a62d4"/>
<ellipse cx="115.89999999999999" cy="515.1" rx="6.6" ry="2.8" fill="#3cb84a"/>
<ellipse cx="115.89999999999999" cy="515.1" rx="5.168" ry="2.584" fill="#bdf02c"/>
<ellipse cx="115.89999999999999" cy="515.1" rx="2.28" ry="1.14" fill="#1a7e22"/>
<path d="M203.5,394.5 C205,392.5 207.5,393.5 209.5,392 C211,391 212.5,392.5 214.5,391.5 C216.5,390.8 217.5,392.3 219.5,392 C221.5,391.5 223,393 225,392.8 C227,393.5 226.8,395.5 226,396.5 C227.5,397.8 226,399.5 224,399.3 C222,400.5 219.5,400 217.5,401 C215,402 212.5,401 210.5,401.5 C208,402 206,400.8 205,399.5 C203.2,398.8 202.8,397 203.3,396 Z" fill="#86e426" stroke="#4aa82a" stroke-width="0.8" />
<ellipse cx="214.5" cy="396.5" rx="4.8" ry="1.8" fill="#a6ea32"/>
<ellipse cx="213" cy="396" rx="1.3" ry="0.7" fill="#3e9a2a"/>
<ellipse cx="217.5" cy="397.5" rx="1.0" ry="0.7" fill="#3e9a2a"/>
<ellipse cx="210" cy="398" rx="0.8" ry="0.7" fill="#3e9a2a"/>
<ellipse cx="217" cy="389.3" rx="1.3" ry="0.8" fill="#5a9ad8"/>
<g transform="translate(0,1.0)">
<path d="M203.6,451 C205.5,449.2 208,450 211,449.2 C214,448.6 218,449.7 221,449.6 C224,450 226,451 226.6,452.5 C227.4,454.3 227.2,456.8 225.5,458.2 C222.8,459.8 219,460 215,460.4 C211,460.7 207,460.3 205.2,459 C203.5,458 203.1,456 203.2,454 C203.1,452.7 203.2,451.8 203.6,451 Z" fill="#6a90e8" stroke="none" stroke-width="0" />
<path d="M204.5,452 C207,450.3 210,451 213,450 C216,449.6 219.5,450.5 222.5,451.2 C225.5,452.3 226,454.5 224.5,456.5 C222.5,458.5 218,458.8 214,459.3 C210,459.7 206.5,459 205,457.5 C203.6,456 203.7,453.5 204.5,452 Z" fill="#9ee82e" stroke="#5aac2c" stroke-width="0.8" />
<ellipse cx="213.5" cy="455" rx="5.5" ry="2.2" fill="#c0f03c"/>
<ellipse cx="212" cy="455" rx="1.5" ry="0.8" fill="#3e9a2a"/>
<ellipse cx="216.5" cy="454" rx="1.2" ry="0.8" fill="#3e9a2a"/>
<ellipse cx="209" cy="456.5" rx="0.9" ry="0.8" fill="#3e9a2a"/>
<path d="M226,452.2 C228,451.8 229.5,453.6 231,454.6 C232.5,455.4 234,454.2 235.5,454.6 C237,455 238,455.6 239.5,454.8 C240.8,454 241.8,452.6 243,451.6" fill="none" stroke="#5a7ee6" stroke-width="1.3" />
<path d="M243.4,449.2 L243.6,456.4" fill="none" stroke="#5a7ee6" stroke-width="1.4" />
<path d="M227,456.2 C229,457.2 231,457 232.5,456.4" fill="none" stroke="#4aa8d8" stroke-width="1.0" />
<rect x="233.2" y="451.4" width="1" height="2.6" fill="#5a7ee6"/>
<rect x="229.0" y="450.8" width="1.4" height="1" fill="#5a7ee6"/>
</g>
<path d="M203.6,511.8 C206,509.6 211,510.2 214,510.8 C217,512 220,511.2 224,511.6 C227,512 229,510.6 232,510 C236,508.8 240,509.2 243,508.3 C245.2,507.6 247,507.2 247.8,508.4 L246.8,510 C247.2,512.2 246,514.2 243,515.1 C239,516.3 234,516.5 230,517.4 C225,518.6 219,518.8 214,518.7 C209,518.8 205.4,518.3 204.2,517 C203.1,515.6 203.0,513 203.6,511.8 Z" fill="#6a8ee8" stroke="none" stroke-width="0" />
<path d="M204.5,512.5 C207,510.8 211,511.3 213.5,512 C216,513 216.5,515.5 214.5,517 C212,518.5 207.5,518.6 205.5,517.5 C203.8,516.5 203.6,514 204.5,512.5 Z" fill="#a8ec30" stroke="#5aac2c" stroke-width="0.8" />
<ellipse cx="209.5" cy="514.8" rx="3.2" ry="1.6" fill="#d6f040"/>
<path d="M216.5,513.8 C219,512.5 223,512.8 226,513.2 C229,513.8 229.5,516 227,517.3 C224,518.3 220,518.2 217.5,517.3 C216,516.5 215.8,514.8 216.5,513.8 Z" fill="#58d068" stroke="#3aa86a" stroke-width="0.8" />
<path d="M229.5,512 C232.5,510.2 237,510.5 241,510.2 C244,510.6 245,512.8 242.5,514.3 C239,515.6 234.5,515.8 231.5,515.5 C229.5,515 228.8,513.2 229.5,512 Z" fill="#5ad07a" stroke="#3a9a8a" stroke-width="0.8" />
<ellipse cx="236.5" cy="512.8" rx="3.5" ry="1.2" fill="#9ae040"/>
<ellipse cx="222" cy="515.3" rx="2.5" ry="1.1" fill="#9ae040"/>
<circle cx="204.5" cy="506.5" r="0.5" fill="#4a72e0"/>
<circle cx="240.5" cy="504.5" r="0.5" fill="#4a72e0"/>
<circle cx="246.5" cy="505.5" r="0.5" fill="#4a72e0"/>
<circle cx="215" cy="508.5" r="0.5" fill="#4a72e0"/>
<ellipse cx="281.0" cy="398.5" rx="11.4" ry="3.0" fill="#b6e62c" stroke="#5aae24" stroke-width="0.9"/>
<line x1="274.16" y1="398.5" x2="287.84" y2="398.5" stroke="#4a8e1e" stroke-width="0.9" stroke-dasharray="2.5,0.8"/>
<ellipse cx="281.3" cy="457.8" rx="11.0" ry="3.6" fill="#b6e62c" stroke="#5aae24" stroke-width="0.9"/>
<line x1="274.7" y1="457.8" x2="287.90000000000003" y2="457.8" stroke="#4a8e1e" stroke-width="0.9" stroke-dasharray="2.5,0.8"/>
<ellipse cx="280.6" cy="515.5" rx="11.8" ry="3.0" fill="#b6e62c" stroke="#5aae24" stroke-width="0.9"/>
<line x1="273.52000000000004" y1="515.5" x2="287.68" y2="515.5" stroke="#4a8e1e" stroke-width="0.9" stroke-dasharray="2.5,0.8"/>
</svg>
</body></html>
